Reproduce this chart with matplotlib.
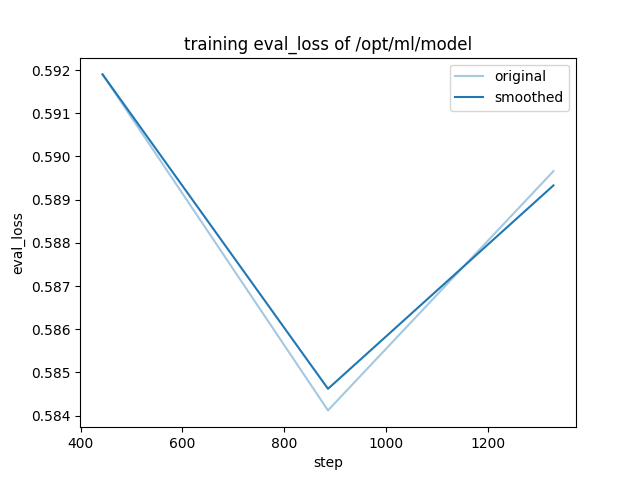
import matplotlib
matplotlib.use('Agg')
import matplotlib.pyplot as plt

steps = [443, 886, 1329]
original = [0.5919, 0.58412, 0.58966]
smoothed = [0.5919, 0.58462, 0.58933]

plt.figure()
plt.plot(steps, original, color='#1f77b4', alpha=0.4, label='original')
plt.plot(steps, smoothed, color='#1f77b4', label='smoothed')
plt.title('training eval_loss of /opt/ml/model')
plt.xlabel('step')
plt.ylabel('eval_loss')
plt.legend()
plt.savefig('out.png', format='png', dpi=100)
